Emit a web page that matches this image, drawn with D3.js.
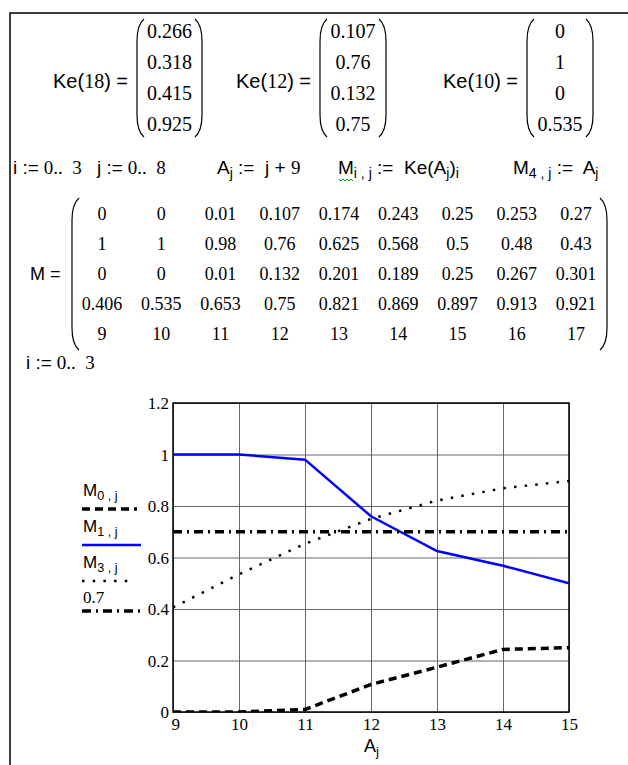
<!DOCTYPE html>
<html lang="en">
<head>
    <title>Ke matrix plot</title>
    <meta http-equiv="Content-Type" content="text/html; charset=UTF-8"/>
    <script type="text/javascript" src="https://d3js.org/d3.v7.min.js"></script>
    <style>
        body { margin: 0; background: #fff; }
        text { white-space: pre; }
    </style>
</head>
<body>
</body>
<script type="text/javascript">

    var keArgs = [18, 12, 10];
    var keVectors = [
        [0.266, 0.318, 0.415, 0.925],
        [0.107, 0.76, 0.132, 0.75],
        [0, 1, 0, 0.535]
    ];
    var A = [9, 10, 11, 12, 13, 14, 15, 16, 17];
    var M0 = [0, 0, 0.01, 0.107, 0.174, 0.243, 0.25, 0.253, 0.27];
    var M1 = [1, 1, 0.98, 0.76, 0.625, 0.568, 0.5, 0.48, 0.43];
    var M2 = [0, 0, 0.01, 0.132, 0.201, 0.189, 0.25, 0.267, 0.301];
    var M3 = [0.406, 0.535, 0.653, 0.75, 0.821, 0.869, 0.897, 0.913, 0.921];
    var refLevel = 0.7;
    var xTicks = [9, 10, 11, 12, 13, 14, 15];
    var yTicks = [0, 0.2, 0.4, 0.6, 0.8, 1, 1.2];

    var SANS = "Liberation Sans, Arial, sans-serif";
    var SERIF = "Liberation Serif, Times New Roman, serif";

    var svg = d3.select('body')
        .append('svg')
        .attr('width', 628)
        .attr('height', 765);

    // region frame (only top and left edges show)
    svg.append('path')
        .attr('d', 'M10,765 L10,13 L628,13')
        .attr('fill', 'none')
        .attr('stroke', '#000')
        .attr('stroke-width', 1.5);

    // writes a run of [text, font, sub] pieces
    function mathText(x, y, parts, size) {
        size = size || 18;
        var t = svg.append('text').attr('x', x).attr('y', y).attr('font-size', size);
        var down = false;
        parts.forEach(function (p) {
            var s = t.append('tspan').text(p[0]).attr('font-family', p[1] == 'r' ? SERIF : SANS);
            if (p[2] && !down) { s.attr('dy', 4).attr('font-size', size * 0.74); down = true; }
            else if (p[2]) { s.attr('font-size', size * 0.74); }
            else if (down) { s.attr('dy', -4); down = false; }
        });
        return t;
    }

    function paren(x, top, bot, left) {
        var c = left ? 7 : -7;
        svg.append('path')
            .attr('d', 'M' + (x + c) + ',' + top + ' Q' + x + ',' + (top + 6) + ' ' + x + ',' + (top + 22) +
                ' L' + x + ',' + (bot - 22) + ' Q' + x + ',' + (bot - 6) + ' ' + (x + c) + ',' + bot)
            .attr('fill', 'none')
            .attr('stroke', '#000')
            .attr('stroke-width', 1.2);
    }

    // Ke(n) = (vector)
    var keLabelX = [53, 236, 443];
    var keLeft = [137, 320, 527];
    var keRight = [202, 386, 593];
    var rowBase = [38, 69, 100, 131];
    keArgs.forEach(function (n, k) {
        mathText(keLabelX[k], 88, [['Ke', 's'], ['(', 's'], [String(n), 'r'], [')', 's'], [' =', 's']], 20);
        paren(keLeft[k], 19, 137, true);
        paren(keRight[k], 19, 137, false);
        keVectors[k].forEach(function (v, r) {
            svg.append('text')
                .attr('x', (keLeft[k] + keRight[k]) / 2)
                .attr('y', rowBase[r])
                .attr('text-anchor', 'middle')
                .attr('font-family', SERIF)
                .attr('font-size', 20)
                .text(String(v));
        });
    });

    // definitions line
    var defY = 174;
    mathText(13, defY, [['i :=', 's'], [' 0..  3', 'r']], 19);
    mathText(97, defY, [['j :=', 's'], [' 0..  8', 'r']], 19);
    mathText(217, defY, [['A', 's'], ['j', 's', 1], [' :=  j + ', 's'], ['9', 'r']], 19);
    mathText(338, defY, [['M', 's'], ['i , j', 's', 1], [' :=  Ke', 's'], ['(', 's'], ['A', 's'], ['j', 's', 1], [')', 's'], ['i', 's', 1]], 19);
    mathText(513, defY, [['M', 's'], ['4 , j', 's', 1], [' :=  A', 's'], ['j', 's', 1]], 19);
    // spell-check squiggle under M
    var sq = 'M339,' + (defY + 5);
    for (var s = 0; s < 7; s++) {
        sq += ' L' + (341 + s * 2) + ',' + (defY + (s % 2 ? 5 : 7));
    }
    svg.append('path').attr('d', sq).attr('fill', 'none').attr('stroke', '#00a000').attr('stroke-width', 1);

    // M = matrix
    var rows = [M0, M1, M2, M3, A];
    var colX = d3.scaleLinear().domain([0, 8]).range([102, 576]);
    var rowY = d3.scaleLinear().domain([0, 4]).range([220, 340]);
    mathText(30, rowY(2), [['M', 's'], [' =', 's']]);
    paren(72, 198, 350, true);
    paren(607, 198, 350, false);
    rows.forEach(function (row, r) {
        row.forEach(function (v, c) {
            svg.append('text')
                .attr('x', colX(c))
                .attr('y', rowY(r))
                .attr('text-anchor', 'middle')
                .attr('font-family', SERIF)
                .attr('font-size', 18)
                .text(String(v));
        });
    });

    mathText(26, 369, [['i :=', 's'], [' 0..  3', 'r']], 19);

    // the plot
    var x = d3.scaleLinear().domain([9, 15]).range([173, 569]);
    var y = d3.scaleLinear().domain([0, 1.2]).range([712, 403]);

    svg.append('clipPath').attr('id', 'plotClip')
        .append('rect').attr('x', 173).attr('y', 403).attr('width', 396).attr('height', 309);

    var xAxis = d3.axisBottom(x).tickValues(xTicks).tickFormat(String)
        .tickSizeInner(-(712 - 403)).tickSizeOuter(0).tickPadding(6);
    var yAxis = d3.axisLeft(y).tickValues(yTicks).tickFormat(String)
        .tickSizeInner(-(569 - 173)).tickSizeOuter(0).tickPadding(4);

    var gx = svg.append('g').attr('transform', 'translate(0,712)').call(xAxis);
    var gy = svg.append('g').attr('transform', 'translate(173,0)').call(yAxis);
    [gx, gy].forEach(function (g) {
        g.select('.domain').remove();
        g.selectAll('line').attr('stroke', '#666').attr('stroke-width', 1);
        g.selectAll('text').attr('font-family', SERIF).attr('font-size', 17).attr('fill', '#000');
    });
    gy.selectAll('text').attr('dy', '0.35em');
    // first labels sit off the corner
    gx.selectAll('text').filter(function (d) { return d == 9; }).attr('text-anchor', 'start').attr('dx', -2);
    gy.selectAll('text').filter(function (d) { return d == 0; }).attr('dy', '0.3em');

    svg.append('rect')
        .attr('x', 173).attr('y', 403).attr('width', 396).attr('height', 309)
        .attr('fill', 'none').attr('stroke', '#000').attr('stroke-width', 1.5);

    var line = d3.line()
        .x(function (d, i) { return x(A[i]); })
        .y(function (d) { return y(d); });

    var plot = svg.append('g').attr('clip-path', 'url(#plotClip)');

    var styles = [
        {data: M0, color: '#000', width: 3.5, dash: '8,5'},
        {data: M1, color: '#0000ff', width: 2.5, dash: null},
        {data: M3, color: '#000', width: 2.5, dash: '2.5,8.2'},
        {data: A.map(function () { return refLevel; }), color: '#000', width: 3.5, dash: '9,5,2,5'}
    ];
    styles.forEach(function (st) {
        plot.append('path')
            .datum(st.data)
            .attr('d', line)
            .attr('fill', 'none')
            .attr('stroke', st.color)
            .attr('stroke-width', st.width)
            .attr('stroke-dasharray', st.dash);
    });

    // legend on the left
    var legendText = [
        [['M', 's'], ['0 , j', 's', 1]],
        [['M', 's'], ['1 , j', 's', 1]],
        [['M', 's'], ['3 , j', 's', 1]],
        [['0.7', 'r']]
    ];
    var legendTextY = [496, 532, 568, 603];
    var legendLineY = [509, 545, 581, 611];
    var legendEnd = [137, 141, 135, 140];
    legendText.forEach(function (parts, k) {
        mathText(83, legendTextY[k], parts, 17);
        svg.append('line')
            .attr('x1', 82).attr('x2', legendEnd[k])
            .attr('y1', legendLineY[k]).attr('y2', legendLineY[k])
            .attr('stroke', styles[k].color)
            .attr('stroke-width', styles[k].width)
            .attr('stroke-dasharray', styles[k].dash);
    });

    // x axis title
    mathText(364, 752, [['A', 's'], ['j', 's', 1]]);

</script>
</html>
